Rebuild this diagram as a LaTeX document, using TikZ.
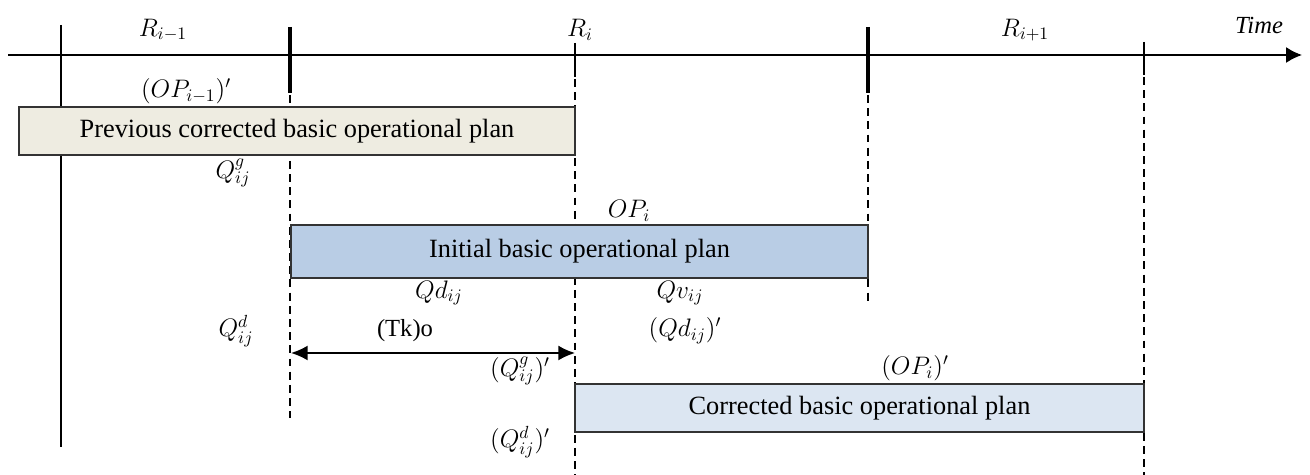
\documentclass[tikz,border=0pt]{standalone}
\usepackage{fontspec}
\setmainfont{Liberation Serif}
\usepackage{tikz}
\usetikzlibrary{arrows.meta}
\definecolor{prevfill}{HTML}{EEECE1}
\definecolor{initfill}{HTML}{B9CDE5}
\definecolor{corrfill}{HTML}{DCE6F2}

\begin{document}
\begin{tikzpicture}[x=0.02cm,y=-0.02cm,font=\fontsize{14}{16}\selectfont,inner sep=1pt,
  plan/.style={draw=black!80,line width=0.9pt},
  plantext/.style={font=\fontsize{15}{17}\selectfont},
  bigtick/.style={line width=2.6pt},
  guide/.style={line width=0.6pt,dash pattern=on 4.5pt off 3pt},
  thin/.style={line width=0.6pt}]
\useasboundingbox (0,0) rectangle (1310,475);
%% time axis with the round labels
\draw[line width=0.9pt,-{Latex[length=9pt,width=9pt]}] (8,55) -- (1302,55);
\node (time) at (1259,25) {\textit{Time}};
\node (Rprev) at (163,30) {$R_{i-1}$};
\node (Ri) at (580,30) {$R_i$};
\node (Rnext) at (1025,30) {$R_{i+1}$};
%% solid marks and the dashed guides below them
\draw[thin] (61,25) -- (61,447);
\draw[bigtick] (290,27) -- (290,93);
\draw[guide] (290,95) -- (290,418);
\draw[thin] (575,43) -- (575,77);
\draw[guide] (575,79) -- (575,475);
\draw[bigtick] (868,27) -- (868,93);
\draw[guide] (868,95) -- (868,305);
\draw[thin] (1144,42) -- (1144,75);
\draw[guide] (1144,77) -- (1144,475);
%% previous corrected plan
\node (OPprev) at (186,91) {$(OP_{i-1})'$};
\draw[plan,fill=prevfill] (19,107) rectangle (575,155) node[midway,plantext] (prevplan) {Previous corrected basic operational plan};
\node (Qg) at (233,173) {$Q^{g}_{ij}$};
%% initial plan
\node (OPi) at (629,211) {$OP_i$};
\draw[plan,fill=initfill] (291,225) rectangle (868,278) node[midway,plantext] (initplan) {Initial basic operational plan};
\node (Qd) at (439,293) {$Qd_{ij}$};
\node (Qv) at (680,293) {$Qv_{ij}$};
\node (Qdsup) at (236,331) {$Q^{d}_{ij}$};
\node (tko) at (405,331) {(Tk)o};
\node (Qdprime) at (685,331) {$(Qd_{ij})'$};
%% duration between the two guides
\coordinate (tkleft) at (291,353);
\coordinate (tkright) at (575,353);
\draw[line width=0.9pt,{Latex[length=9.5pt,width=8.5pt]}-{Latex[length=9.5pt,width=8.5pt]}] (tkleft) -- (tkright);
\node (Qgprime) at (520,371) {$(Q^{g}_{ij})'$};
%% corrected plan
\node (OPiprime) at (915,368) {$(OP_i)'$};
\draw[plan,fill=corrfill] (575,384) rectangle (1144,432) node[midway,plantext] (corrplan) {Corrected basic operational plan};
\node (Qdsprime) at (520,442) {$(Q^{d}_{ij})'$};
\end{tikzpicture}
\end{document}
